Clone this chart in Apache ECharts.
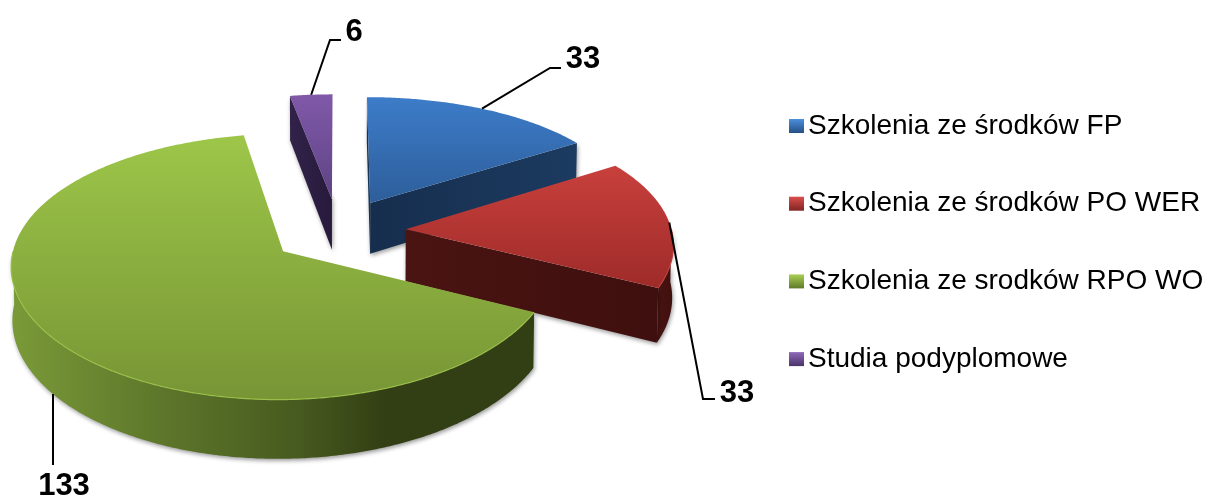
<!DOCTYPE html>
<html>
<head>
<meta charset="utf-8">
<style>html,body{margin:0;padding:0;background:#fff}#c{width:1208px;height:497px}</style>
<script src="https://cdn.jsdelivr.net/npm/echarts@6/dist/echarts.min.js"></script>
</head>
<body>
<div id="c"></div>
<script>
var categories = ['Szkolenia ze środków FP','Szkolenia ze środków PO WER','Szkolenia ze srodków RPO WO','Studia podyplomowe'];
var values = [33, 33, 133, 6];

// styling per slice
var topColors  = [['#3d7cc9','#2d5e9a'],['#c8403c','#9e2b29'],['#9dc649','#779535'],['#8059a9','#5e4384']];
var cutColors  = [['#162e4e','#1c3b60'],['#4a1412','#3e0f0e'],['#323e13','#323e13'],['#32224a','#271a3b']];
var rimStops   = [
  [[0,'#1c3b60'],[1,'#162e4e']],
  [[0,'#4a1412'],[1,'#3e0f0e']],
  [[0,'#7a9a38'],[0.3,'#5c752a'],[0.55,'#475a1f'],[0.72,'#323e13'],[1,'#323e13']],
  [[0,'#32224a'],[1,'#271a3b']]
];
var legendColors = [['#4d8fdc','#254f85'],['#d9504c','#812422'],['#a9d054','#5f7a28'],['#8f69ba','#4a3468']];
// leader: fraction of the slice's arc where the line leaves, whether it leaves from the lower edge, elbow, end, label centre
var leaders = [
  {frac:0.5,  low:false, elbow:[550,68],  end:[561,68],  text:[583,59]},
  {frac:0.5,  low:false, elbow:[703,399], end:[715,399], text:[737,393]},
  {frac:0.47, low:true,  elbow:[53,394],  end:[53,465],  text:[64,486]},
  {frac:0.5,  low:false, elbow:[330,40],  end:[341,40],  text:[354,32]}
];
var sliceZ = [2,3,4,1];

// projection of the tilted disc
var CX=338, CY=231, R=266, TILT=0.482, PERSP_X=0.10, PERSP_Y=0.12, DEPTH=52, EXPLODE=68, TAPER=0.004;
var total = values.reduce(function(a,b){return a+b;},0);

function project(X,Y,z){
  var sx = (1 + PERSP_X*Y/R)*(1 - TAPER*z/DEPTH), sy = 1 + PERSP_Y*Y/R;
  return [CX + X*sx, CY + Y*TILT*sy + z*sy];
}
function lin(c0,c1,h){
  return new echarts.graphic.LinearGradient(0,0,h?1:0,h?0:1,[{offset:0,color:c0},{offset:1,color:c1}]);
}
function sliceStart(i){
  var before=0; for(var k=0;k<i;k++) before+=values[k];
  return before/total*2*Math.PI;
}
function makeRender(i){
  return function(params,api){
    var v = api.value(0);
    var a0=sliceStart(i), a1=a0+v/total*2*Math.PI, mid=(a0+a1)/2;
    var ox=Math.sin(mid)*EXPLODE, oy=-Math.cos(mid)*EXPLODE;
    function rimPt(a,z){return project(ox+Math.sin(a)*R, oy-Math.cos(a)*R, z);}
    var apexT=project(ox,oy,0), apexB=project(ox,oy,DEPTH);
    var N=Math.max(8,Math.ceil((a1-a0)/0.01)), arc=[], k;
    for(k=0;k<=N;k++){ arc.push(a0+(a1-a0)*k/N); }
    var children=[], shadow={shadowBlur:4,shadowColor:'rgba(0,0,0,0.4)',shadowOffsetX:1,shadowOffsetY:2};

    // outer rim: only the part facing the viewer
    var front=arc.filter(function(x){return Math.cos(x)<0;});
    if(front.length>1){
      var topEdge=front.map(function(x){return rimPt(x,0);});
      var botEdge=front.map(function(x){return rimPt(x,DEPTH);}).reverse();
      var st=rimStops[i];
      children.push({type:'polygon',shape:{points:topEdge.concat(botEdge)},
        style:Object.assign({fill:new echarts.graphic.LinearGradient(0,0,1,0,st.map(function(s){return {offset:s[0],color:s[1]};}))},shadow)});
    }
    // cut faces
    if(-Math.sin(a0)>-0.001){
      children.push({type:'polygon',shape:{points:[apexT,rimPt(a0,0),rimPt(a0,DEPTH),apexB]},
        style:Object.assign({fill:lin(cutColors[i][0],cutColors[i][1],true)},shadow)});
    }
    if(Math.sin(a1)>0.001){
      children.push({type:'polygon',shape:{points:[apexT,rimPt(a1,0),rimPt(a1,DEPTH),apexB]},
        style:Object.assign({fill:lin(cutColors[i][0],cutColors[i][1],true)},shadow)});
    }
    // top face
    var topPts=[apexT].concat(arc.map(function(x){return rimPt(x,0);}));
    children.push({type:'polygon',shape:{points:topPts},style:{fill:lin(topColors[i][0],topColors[i][1],false)}});
    if(front.length>1){
      children.push({type:'polyline',shape:{points:front.map(function(x){return rimPt(x,0);})},
        style:{fill:null,stroke:topColors[i][0],lineWidth:1.2,opacity:0.8}});
    }
    // leader and label
    var L=leaders[i], anchorA=a0+(a1-a0)*L.frac, anchor=rimPt(anchorA,L.low?DEPTH:0);
    children.push({type:'polyline',shape:{points:[L.low?[L.elbow[0],anchor[1]]:anchor,L.elbow,L.end]},
      style:{fill:null,stroke:'#000',lineWidth:2}});
    children.push({type:'text',style:{text:String(v),x:L.text[0],y:L.text[1],align:'center',verticalAlign:'middle',
      fill:'#000',font:'bold 31px "Liberation Sans", Arial, sans-serif'}});
    return {type:'group',children:children};
  };
}

var chart = echarts.init(document.getElementById('c'),null,{renderer:'canvas'});
chart.setOption({
  animation:false,
  backgroundColor:'#fff',
  legend:{
    orient:'vertical', left:784, top:107, selectedMode:false,
    itemWidth:15, itemHeight:14, itemGap:49.7,
    textStyle:{fontFamily:'"Liberation Sans", Arial, sans-serif',fontSize:28,color:'#000',padding:[0,0,0,-1]},
    data:categories.map(function(name,i){
      return {name:name,icon:'rect',itemStyle:{color:lin(legendColors[i][0],legendColors[i][1],false),borderWidth:0}};
    })
  },
  series:categories.map(function(name,i){
    return {type:'custom',name:name,coordinateSystem:'none',z:sliceZ[i],silent:true,clip:false,
      itemStyle:{color:topColors[i][0]},
      data:[[values[i]]],renderItem:makeRender(i)};
  })
});
</script>
</body>
</html>
